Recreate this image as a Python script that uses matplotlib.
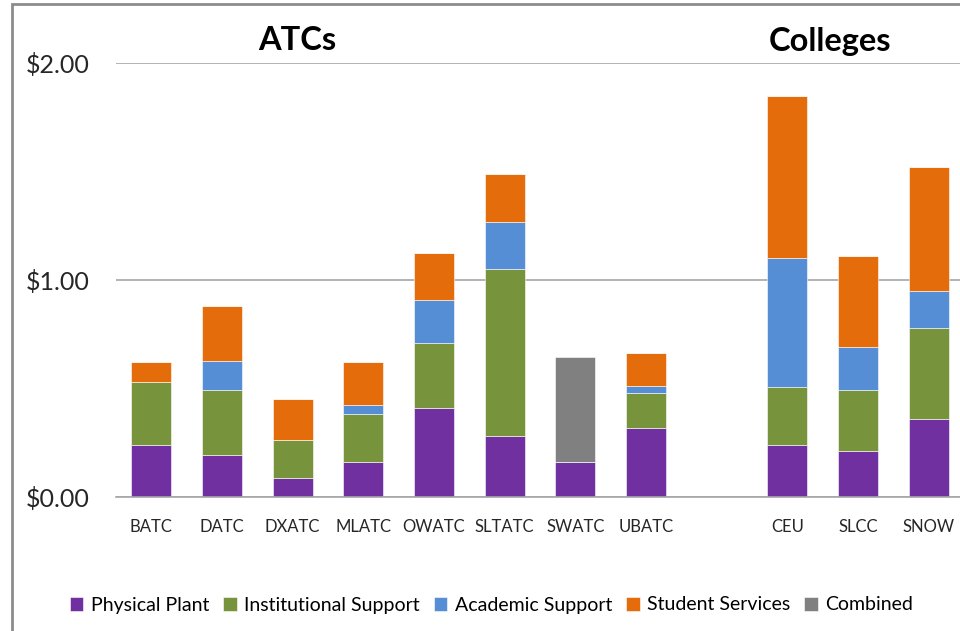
import numpy as np
import matplotlib.pyplot as plt
from matplotlib.patches import Rectangle

plt.rcParams['font.family'] = ['Lato', 'DejaVu Sans']

schools = ["BATC", "DATC", "DXATC", "MLATC", "OWATC", "SLTATC", "SWATC", "UBATC",
           "CEU", "SLCC", "SNOW"]
slots = [0, 1, 2, 3, 4, 5, 6, 7, 9, 10, 11]

physical_plant = [0.24, 0.194, 0.086, 0.16, 0.41, 0.281, 0.16, 0.318, 0.24, 0.211, 0.358]
institutional = [0.29, 0.298, 0.177, 0.221, 0.298, 0.770, 0.0, 0.161, 0.265, 0.284, 0.421]
academic = [0.0, 0.135, 0.0, 0.043, 0.200, 0.215, 0.0, 0.034, 0.598, 0.195, 0.169]
student = [0.09, 0.255, 0.187, 0.197, 0.216, 0.222, 0.0, 0.151, 0.745, 0.421, 0.573]
combined = [0.0, 0.0, 0.0, 0.0, 0.0, 0.0, 0.485, 0.0, 0.0, 0.0, 0.0]

series = [
    ("Physical Plant", physical_plant, "#7030A0"),
    ("Institutional Support", institutional, "#77933C"),
    ("Academic Support", academic, "#558ED5"),
    ("Student Services", student, "#E46C0A"),
    ("Combined", combined, "#808080"),
]

fig = plt.figure(figsize=(9.6, 6.31), dpi=100)
ax = fig.add_axes([116/960, (631-497)/631, (964-116)/960, (497-63)/631])

x = np.array(slots)
bottom = np.zeros(len(schools))
for name, vals, col in series:
    vals = np.array(vals)
    ax.bar(x, vals, width=0.57, bottom=bottom, color=col, label=name,
           edgecolor="white", linewidth=0.4)
    bottom += vals

ax.set_xlim(-0.5, 11.5)
ax.set_ylim(0, 2.0)
ax.set_yticks([0, 1, 2])
ax.set_yticklabels(["$0.00", "$1.00", "$2.00"], fontsize=18, color="#262626")
ax.set_xticks(x)
ax.set_xticklabels(schools, fontsize=12, color="#262626")
ax.tick_params(axis="y", length=0, pad=19)
ax.tick_params(axis="x", length=0, pad=16)
ax.grid(axis="y", color="#A6A6A6", linewidth=1.2)
ax.set_axisbelow(True)
for s in ["top", "right", "left"]:
    ax.spines[s].set_visible(False)
ax.spines["bottom"].set_color("#A6A6A6")
ax.spines["bottom"].set_linewidth(1.2)

fig.text(297/960, 1 - 40/631, "ATCs", fontsize=23.5, fontweight="bold",
         ha="center", va="center")
fig.text(830/960, 1 - 42/631, "Colleges", fontsize=23.5, fontweight="bold",
         ha="center", va="center")

fig.legend(loc="center", bbox_to_anchor=(0.512, 1 - 605/631), ncol=5,
           frameon=False, fontsize=14, handlelength=0.7, handleheight=0.7,
           handletextpad=0.4, columnspacing=0.7)

fig.patches.append(Rectangle((12/960, -0.1), 1.2, 1.1 - 4/631, transform=fig.transFigure,
                             fill=False, edgecolor="#8C8C8C", linewidth=2))

fig.savefig("out.png", dpi=100)
